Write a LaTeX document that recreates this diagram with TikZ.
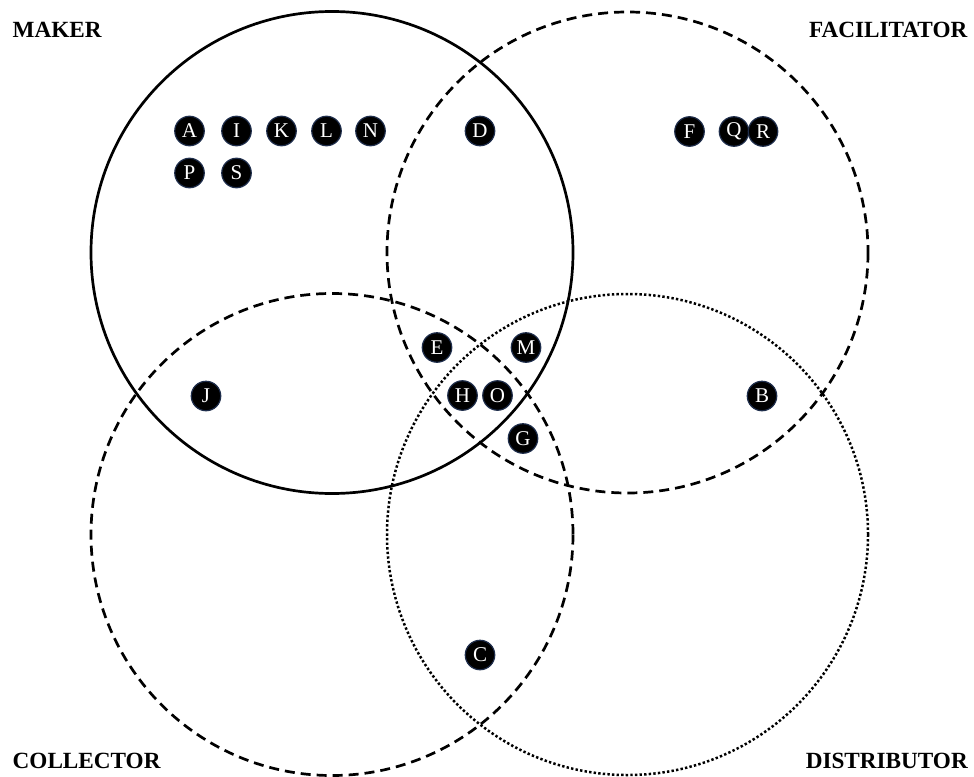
\documentclass[tikz,border=0pt]{standalone}
\usepackage{fontspec}
\setmainfont{Liberation Serif}
\begin{document}
\begin{tikzpicture}[x=1pt,y=-1pt,
  setcircle/.style={line width=2.7pt},
  lbl/.style={font=\fontsize{23.2}{26}\selectfont\bfseries, inner sep=0pt},
  dotnode/.style={circle, fill=black, draw={rgb,255:red,30;green,45;blue,75}, line width=1.2pt,
    minimum size=29.5pt, inner sep=0pt, text=white, font=\fontsize{21}{22}\selectfont}]
\useasboundingbox (0,0) rectangle (974,776);
% circles
\draw[setcircle] (332,252.5) circle[radius=241];
\draw[setcircle, dash pattern=on 10pt off 6pt] (627.5,252.5) circle[radius=240.5];
\draw[setcircle, dash pattern=on 10pt off 6pt] (332,534.5) circle[radius=241];
\draw[setcircle, line width=2.5pt, dash pattern=on 2.4pt off 2.2pt] (627.5,534.5) circle[radius=240.5];
% labels
\node[lbl, anchor=west] (maker) at (12.5,30) {MAKER};
\node[lbl, anchor=east] (facil) at (967.5,30) {FACILITATOR};
\node[lbl, anchor=west] (coll) at (12.5,761) {COLLECTOR};
\node[lbl, anchor=east] (dist) at (968,761) {DISTRIBUTOR};
% dots
\node[dotnode] (A) at (189.5,131) {A};
\node[dotnode] (I) at (236.5,131) {I};
\node[dotnode] (K) at (281.5,131) {K};
\node[dotnode] (L) at (326.5,131) {L};
\node[dotnode] (N) at (370.5,131) {N};
\node[dotnode] (P) at (189.5,173) {P};
\node[dotnode] (S) at (236.5,173) {S};
\node[dotnode] (D) at (480,131) {D};
\node[dotnode] (F) at (689.5,131.5) {F};
\node[dotnode] (Q) at (734,131.5) {Q};
\node[dotnode] (R) at (763,131.5) {R};
\node[dotnode] (E) at (437,347.5) {E};
\node[dotnode] (M) at (526,347.5) {M};
\node[dotnode] (J) at (206,396) {J};
\node[dotnode] (H) at (462.5,395.5) {H};
\node[dotnode] (O) at (497.5,395.5) {O};
\node[dotnode] (B) at (762,396) {B};
\node[dotnode] (G) at (523,438.5) {G};
\node[dotnode] (C) at (480,655) {C};
\end{tikzpicture}
\end{document}
